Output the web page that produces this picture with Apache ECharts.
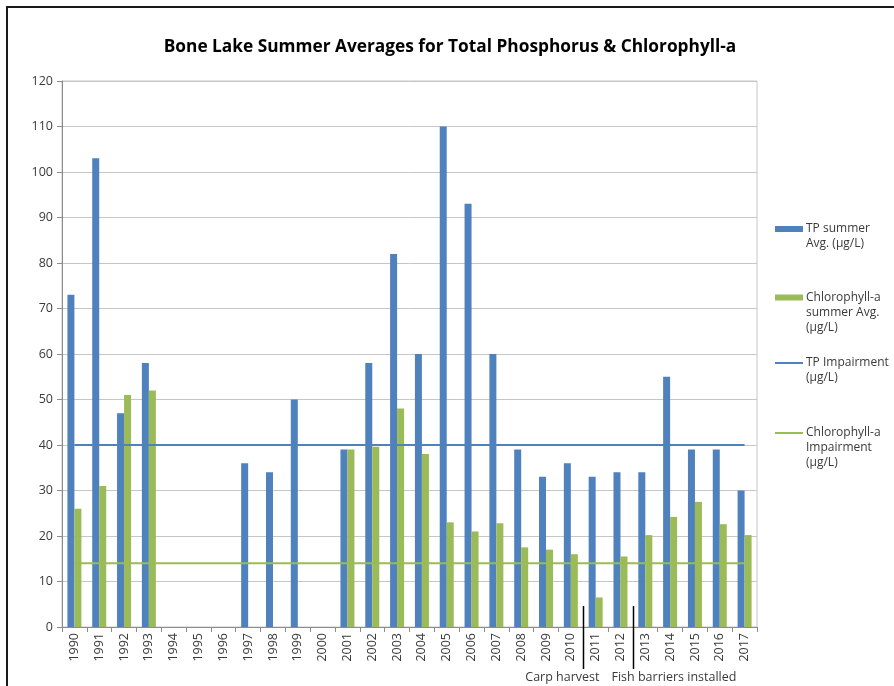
<!DOCTYPE html>
<html>
<head>
<meta charset="utf-8">
<script src="https://cdn.jsdelivr.net/npm/echarts@6/dist/echarts.min.js"></script>
<style>
html,body{margin:0;padding:0;background:#fff;}
#chart{width:894px;height:686px;}
</style>
</head>
<body>
<div id="chart"></div>
<script>
const years = ['1990','1991','1992','1993','1994','1995','1996','1997','1998','1999','2000','2001','2002','2003','2004','2005','2006','2007','2008','2009','2010','2011','2012','2013','2014','2015','2016','2017'];
const tpSummerAvg = [73,103,47,58,null,null,null,36,34,50,null,39,58,82,60,110,93,60,39,33,36,33,34,34,55,39,39,30];
const chlSummerAvg = [26,31,51,52,null,null,null,null,null,null,null,39,39.6,48,38,23,21,22.8,17.5,17,16,6.5,15.5,20.2,24.2,27.5,22.6,20.2];
const tpImpairment = [40,40,40,40,40,40,40,40,40,40,40,40,40,40,40,40,40,40,40,40,40,40,40,40,40,40,40,40];
const chlImpairment = [14,14,14,14,14,14,14,14,14,14,14,14,14,14,14,14,14,14,14,14,14,14,14,14,14,14,14,14];
const yTicks = [0,10,20,30,40,50,60,70,80,90,100,110,120];
const seriesNames = ['TP summer Avg. (µg/L)','Chlorophyll-a summer Avg. (µg/L)','TP Impairment (µg/L)','Chlorophyll-a Impairment (µg/L)'];
const legendLabels = ['\nTP summer\nAvg. (µg/L)','\n\nChlorophyll-a\nsummer Avg.\n(µg/L)','\nTP Impairment\n(µg/L)','\n\nChlorophyll-a\nImpairment\n(µg/L)'];
const annotations = [{after:'2010', text:'Carp harvest'},{after:'2012', text:'Fish barriers installed'}];

const BLUE = '#4f81bd', GREEN = '#9bbb59', TXT = '#3a3a3a';
const chart = echarts.init(document.getElementById('chart'), null, {renderer:'canvas'});

function legendFor(i, top){
  return {
    data:[{name:seriesNames[i], icon:'rect'}], orient:'vertical', left:775, top:top, padding:0,
    itemWidth:28, itemHeight: i < 2 ? 6 : 2, itemGap:0,
    formatter: function(){ return legendLabels[i]; },
    textStyle:{fontFamily:'Open Sans', fontSize:12, lineHeight:15, color:TXT, padding:[0,0,0,-2]},
    selectedMode:false
  };
}

const option = {
  animation:false,
  backgroundColor:'#fff',
  textStyle:{fontFamily:'Open Sans'},
  title:{
    text:'Bone Lake Summer Averages for Total Phosphorus & Chlorophyll-a',
    left:445, textAlign:'center', top:34,
    textStyle:{fontFamily:'Open Sans', fontSize:17.3, fontWeight:'bold', color:'#000'}
  },
  legend:[legendFor(0,206.5), legendFor(1,260), legendFor(2,340.5), legendFor(3,395.5)],
  grid:{left:62, top:81, right:894-757, bottom:686-627, show:true, borderColor:'#c6c6c6', borderWidth:1, containLabel:false},
  xAxis:{
    type:'category', data:years, boundaryGap:true,
    axisLine:{lineStyle:{color:'#8c8c8c', width:1}},
    axisTick:{show:true, length:5, lineStyle:{color:'#8c8c8c'}},
    axisLabel:{rotate:90, fontSize:12.5, color:TXT, margin:6, interval:0}
  },
  yAxis:{
    type:'value', min:yTicks[0], max:yTicks[yTicks.length-1], interval:10,
    axisLine:{show:true, lineStyle:{color:'#8c8c8c'}},
    axisTick:{show:true, length:5, lineStyle:{color:'#8c8c8c'}},
    axisLabel:{fontSize:12.5, color:TXT, margin:9},
    splitLine:{lineStyle:{color:'#c6c6c6', width:1}}
  },
  series:[
    {name:seriesNames[0], type:'bar', data:tpSummerAvg, barWidth:7, barGap:'0%', itemStyle:{color:BLUE}},
    {name:seriesNames[1], type:'bar', data:chlSummerAvg, barWidth:7, barGap:'0%', itemStyle:{color:GREEN}},
    {name:seriesNames[2], type:'line', data:tpImpairment, symbol:'none', lineStyle:{color:BLUE, width:2}, itemStyle:{color:BLUE}},
    {name:seriesNames[3], type:'line', data:chlImpairment, symbol:'none', lineStyle:{color:GREEN, width:2}, itemStyle:{color:GREEN}}
  ],
  graphic:[
    {type:'rect', shape:{x:7, y:7, width:1000, height:1000}, style:{fill:null, stroke:'#1a1a1a', lineWidth:2}, z:100, silent:true}
  ]
};
chart.setOption(option);

// annotations positioned from the axis scale
const gfx = [];
annotations.forEach(function(a, k){
  const idx = years.indexOf(a.after);
  const x1 = chart.convertToPixel({xAxisIndex:0}, years[idx]);
  const x2 = chart.convertToPixel({xAxisIndex:0}, years[idx+1]);
  const x = Math.round((x1 + x2) / 2) + 0.5;
  const yTop = chart.convertToPixel({yAxisIndex:0}, 4.6);
  gfx.push({type:'line', shape:{x1:x, y1:yTop, x2:x, y2:669}, style:{stroke:'#000', lineWidth:1.5}, z:50, silent:true});
  gfx.push({type:'text', x: k===0 ? x+16 : x-22, y:677,
    style:{text:a.text, fontFamily:'Open Sans', fontSize:12.5, fill:TXT, align: k===0 ? 'right' : 'left', verticalAlign:'middle'}, z:50, silent:true});
});
chart.setOption({graphic: option.graphic.concat(gfx)});
</script>
</body>
</html>
